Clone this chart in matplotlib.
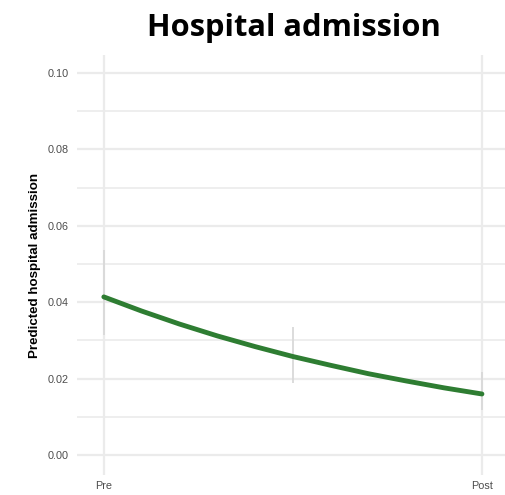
import matplotlib
matplotlib.use("Agg")
import matplotlib.pyplot as plt
from matplotlib.ticker import MultipleLocator

# Data
time_pos = [0.0, 0.1, 0.2, 0.3, 0.4, 0.5, 0.6, 0.7, 0.8, 0.9, 1.0]
predicted = [0.0414, 0.0377, 0.0343, 0.0312, 0.0284, 0.0258, 0.0235, 0.0213, 0.0194, 0.0176, 0.0160]
ci_pos = [0.0, 0.5, 1.0]
ci_low = [0.0314, 0.0190, 0.0118]
ci_high = [0.0537, 0.0335, 0.0217]
x_ticks = [0.0, 1.0]
x_labels = ["Pre", "Post"]
y_ticks = [0.00, 0.02, 0.04, 0.06, 0.08, 0.10]
y_labels = ["0.00", "0.02", "0.04", "0.06", "0.08", "0.10"]

fig = plt.figure(figsize=(5.05, 4.95), dpi=100)
ax = fig.add_axes([77 / 505, 1 - 475 / 495, (505 - 77) / 505, (475 - 55) / 495])

grid_c = "#ebebeb"
ax.set_xlim(-0.071, 1.061)
ax.set_ylim(-0.0052, 0.1047)
ax.set_xticks(x_ticks)
ax.set_xticklabels(x_labels)
ax.set_yticks(y_ticks)
ax.set_yticklabels(y_labels)
ax.yaxis.set_minor_locator(MultipleLocator(0.01))
ax.grid(True, which="major", color=grid_c, linewidth=1.6)
ax.grid(True, which="minor", axis="y", color=grid_c, linewidth=1.2)
ax.set_axisbelow(True)
for s in ax.spines.values():
    s.set_visible(False)
ax.tick_params(axis="both", which="both", length=0, labelsize=7.8, labelcolor="#4d4d4d",
               labelfontfamily="Liberation Sans")
ax.tick_params(axis="y", pad=6)
ax.tick_params(axis="x", pad=4)

ax.vlines(ci_pos, ci_low, ci_high, color="#d9d9d9", linewidth=1.3, zorder=1.5)
ax.plot(time_pos, predicted, color="#2e7d32", linewidth=3.5, solid_capstyle="round", zorder=3)

ax.set_ylabel("Predicted hospital admission", fontsize=9.6, fontweight="bold",
              family="Liberation Sans", labelpad=5)
fig.text(0.582, 0.944, "Hospital admission", ha="center", va="center",
         fontsize=22.2, fontweight="bold", family="Open Sans")

fig.savefig("out.png", dpi=100)
